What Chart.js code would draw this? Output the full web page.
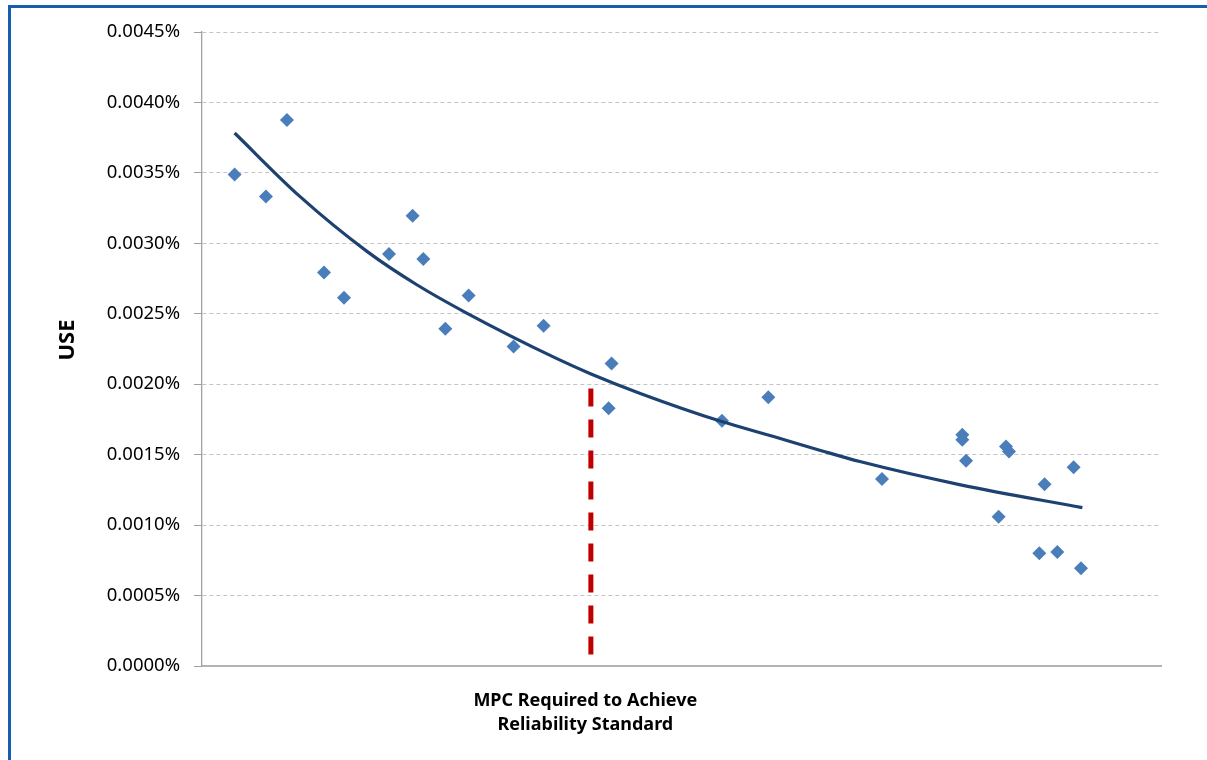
<!DOCTYPE html>
<html>
<head>
<meta charset="utf-8">
<title>USE vs MPC</title>
<script src="https://cdn.jsdelivr.net/npm/chart.js@4.4.1/dist/chart.umd.min.js"></script>
<style>
  html, body { margin: 0; padding: 0; background: #fff; }
  #wrap { position: relative; width: 1207px; height: 760px; overflow: hidden; }
  #frame {
    position: absolute; left: 8px; top: 5px; right: 0; bottom: 0;
    border-top: 3px solid #155fae; border-left: 3px solid #155fae;
  }
  #chart { position: absolute; left: 0; top: 0; }
</style>
</head>
<body>
<div id="wrap">
  <div id="frame"></div>
  <canvas id="chart" width="1207" height="760"></canvas>
</div>
<script>
// observed scenarios (x is a relative MPC position, y is USE in %)
const mpcValues = [3.40, 6.67, 8.86, 12.72, 14.81, 19.50, 21.96, 23.08, 25.37, 27.80,
  32.49, 35.62, 42.71, 42.40, 54.22, 59.05, 70.91, 79.28, 79.28, 79.67,
  83.84, 84.15, 83.07, 87.86, 90.89, 87.31, 89.19, 91.66];
const useValues = [0.003489, 0.003333, 0.003876, 0.002793, 0.002614, 0.002924, 0.003196, 0.002889, 0.002393, 0.002630,
  0.002268, 0.002415, 0.002147, 0.001830, 0.001740, 0.001908, 0.001328, 0.001641, 0.001605, 0.001456,
  0.001558, 0.001522, 0.001060, 0.001290, 0.001411, 0.000800, 0.000810, 0.000694];

// fitted trend line
const trendMpc = [3.40, 10.2, 17.2, 22.4, 27.6, 36.9, 40.5, 45.7, 54.2, 59.6, 64.5, 68.6, 79.1, 91.8];
const trendUse = [0.003783, 0.003333, 0.002943, 0.002706, 0.002505, 0.002185, 0.002075, 0.001935,
  0.001735, 0.001629, 0.001530, 0.001451, 0.001286, 0.001124];

// MPC required to achieve the reliability standard
const standardMpc = [40.55, 40.55];
const standardUse = [0.00197, 0.00008];

const yTicks = [0, 0.0005, 0.0010, 0.0015, 0.0020, 0.0025, 0.0030, 0.0035, 0.0040, 0.0045];
const xTitleLines = ['MPC Required to Achieve', 'Reliability Standard'];
const yTitle = 'USE';

const toPoints = (xs, ys) => xs.map((x, i) => ({ x: x, y: ys[i] }));

// axis titles sit at fixed spots in the original, so draw them by hand
const axisTitles = {
  id: 'axisTitles',
  afterDraw(chart) {
    const ctx = chart.ctx;
    ctx.save();
    ctx.fillStyle = '#000';
    ctx.textAlign = 'center';
    ctx.textBaseline = 'alphabetic';
    ctx.font = 'bold 18px "Noto Sans"';
    const cx = chart.scales.x.getPixelForValue(39.97);
    ctx.fillText(xTitleLines[0], cx, 706);
    ctx.fillText(xTitleLines[1], cx, 730);

    ctx.font = 'bold 22px "Noto Sans"';
    ctx.translate(73.5, 340);
    ctx.rotate(-Math.PI / 2);
    ctx.fillText(yTitle, 0, 0);
    ctx.restore();
  }
};

new Chart(document.getElementById('chart'), {
  type: 'scatter',
  data: {
    datasets: [
      {
        label: 'Standard',
        data: toPoints(standardMpc, standardUse),
        showLine: true,
        borderColor: '#c00000',
        borderWidth: 5,
        borderDash: [18, 13],
        pointRadius: 0,
        order: 1
      },
      {
        label: 'Trend',
        data: toPoints(trendMpc, trendUse),
        showLine: true,
        borderColor: '#1d4170',
        borderWidth: 3.2,
        cubicInterpolationMode: 'monotone',
        pointRadius: 0,
        order: 2
      },
      {
        label: 'USE',
        data: toPoints(mpcValues, useValues),
        pointStyle: 'rectRot',
        pointRadius: 7,
        pointBackgroundColor: '#4a7ebb',
        pointBorderColor: '#4a7ebb',
        pointBorderWidth: 0,
        order: 3
      }
    ]
  },
  options: {
    responsive: false,
    animation: false,
    layout: { padding: { top: 32, right: 46, left: 0, bottom: 0 } },
    plugins: {
      legend: { display: false },
      tooltip: { enabled: false }
    },
    scales: {
      x: {
        type: 'linear',
        min: 0,
        max: 100,
        ticks: { display: false },
        grid: { display: false },
        border: { display: true, color: '#b4b4b4', width: 2 },
        afterFit: (scale) => { scale.height = 94; }
      },
      y: {
        min: 0,
        max: 0.0045,
        afterBuildTicks: (scale) => { scale.ticks = yTicks.map(v => ({ value: v })); },
        ticks: {
          padding: 14,
          color: '#000',
          font: { family: '"Noto Sans"', size: 18.5 },
          callback: (v) => v.toFixed(4) + '%'
        },
        grid: {
          color: '#c4c4c4',
          lineWidth: 1,
          tickLength: 8,
          tickColor: '#a0a0a0',
          tickBorderDash: []
        },
        border: { display: true, color: '#a0a0a0', width: 1.3, dash: [4, 3] },
        afterFit: (scale) => { scale.width = 202; }
      }
    }
  },
  plugins: [axisTitles]
});
</script>
</body>
</html>
